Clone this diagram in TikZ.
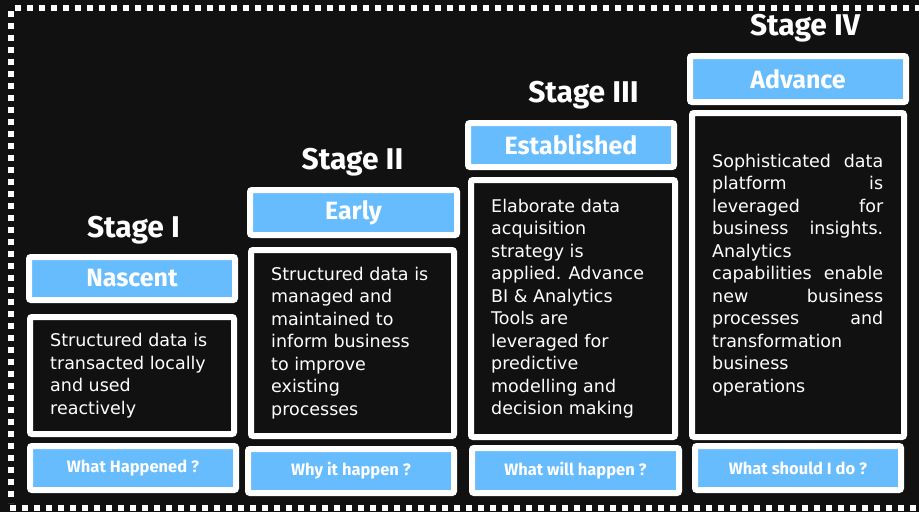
\documentclass[tikz,border=0pt]{standalone}
\usepackage{fontspec}
\setmainfont{DejaVu Sans}
\newfontfamily\headfont{Fira Sans}
\definecolor{bg}{RGB}{17,17,17}
\definecolor{sky}{RGB}{102,188,252}

\begin{document}
\begin{tikzpicture}[x=1pt,y=-1pt,
  frame/.style={draw=white, line width=6pt, rounded corners=2pt, inner sep=0pt},
  tagbox/.style={frame, fill=sky, text=white, font=\headfont\bfseries\fontsize{25}{30}\selectfont},
  askbox/.style={frame, fill=sky, text=white, font=\headfont\bfseries\fontsize{16.5}{20}\selectfont},
  textbox/.style={frame, fill=bg},
  body/.style={anchor=west, inner sep=0pt, text=white, align=left, font=\fontsize{17.5}{22.5}\selectfont},
  stagetitle/.style={anchor=base, inner sep=0pt, text=white, font=\headfont\bfseries\fontsize{30}{36}\selectfont},
  dots/.style={white, line width=6pt, dash pattern=on 6pt off 6pt}]

  % canvas
  \useasboundingbox (0,0) rectangle (919,512);
  \fill[bg] (0,0) rectangle (919,512);

  % dotted frame (open on the right)
  \draw[dots] (15,8) -- (919,8);
  \draw[dots] (11,11) -- (11,503);
  \draw[dots] (10,508) -- (919,508);

  % Stage I
  \node[stagetitle] (s1) at (133.5,237) {Stage I};
  \node[tagbox, minimum width=206pt, minimum height=43pt] (l1) at (132,278.5) {Nascent};
  \node[textbox, minimum width=204pt, minimum height=117pt] (t1) at (132,375.5) {};
  \node[body] (d1) at ([xshift=23pt]t1.west)
    {Structured data is\\transacted locally\\and used\\reactively};
  \node[askbox, minimum width=206pt, minimum height=44pt] (q1) at (133,468) {What Happened ?};

  % Stage II
  \node[stagetitle] (s2) at (352.5,169.5) {Stage II};
  \node[tagbox, minimum width=207pt, minimum height=45pt] (l2) at (353.5,212.5) {Early};
  \node[textbox, minimum width=203pt, minimum height=186pt] (t2) at (352.5,343) {};
  \node[body] (d2) at ([xshift=23pt]t2.west)
    {Structured data is\\managed and\\maintained to\\inform business\\to improve\\existing\\processes};
  \node[askbox, minimum width=206pt, minimum height=44pt] (q2) at (351,471) {Why it happen ?};

  % Stage III
  \node[stagetitle] (s3) at (583.5,102) {Stage III};
  \node[tagbox, minimum width=206pt, minimum height=44pt] (l3) at (571,145) {Established};
  \node[textbox, minimum width=204pt, minimum height=257pt] (t3) at (573,308.5) {};
  \node[body] (d3) at ([xshift=23pt]t3.west)
    {Elaborate data\\acquisition\\strategy is\\applied. Advance\\BI \& Analytics\\Tools are\\leveraged for\\predictive\\modelling and\\decision making};
  \node[askbox, minimum width=207pt, minimum height=45pt] (q3) at (575.5,470.5) {What will happen ?};

  % Stage IV
  \node[stagetitle] (s4) at (805,35) {Stage IV};
  \node[tagbox, minimum width=216pt, minimum height=46pt] (l4) at (798,79) {Advance};
  \node[textbox, minimum width=212pt, minimum height=324pt] (t4) at (798,275) {};
  \node[body, text width=171pt] (d4) at ([xshift=23pt]t4.west)
    {Sophisticated\hfill data\\platform\hfill is\\leveraged\hfill for\\business\hfill insights.\\Analytics\\capabilities\hfill enable\\new\hfill business\\processes\hfill and\\transformation\\business\\operations};
  \node[askbox, minimum width=206pt, minimum height=44pt] (q4) at (798,468) {What should I do ?};
\end{tikzpicture}
\end{document}
